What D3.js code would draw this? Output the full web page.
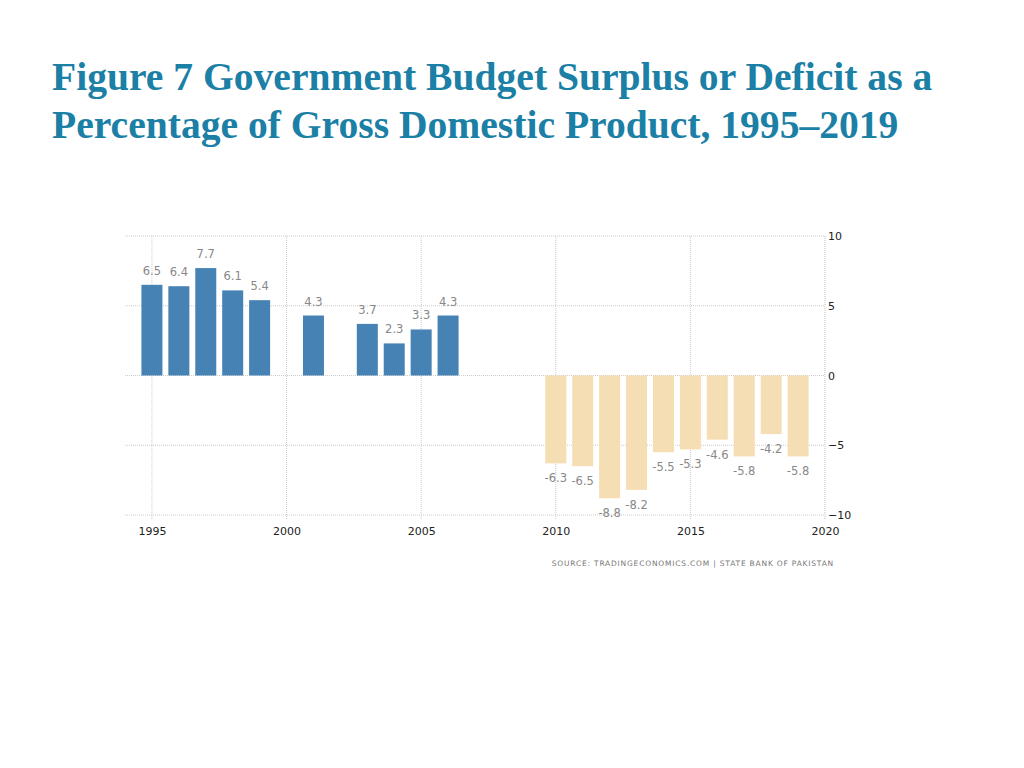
<!DOCTYPE html>
<html>
<head>
<meta charset="utf-8">
<script src="https://cdn.jsdelivr.net/npm/d3@7"></script>
<style>
  body { margin: 0; background: #fff; }
  .title { font-family: "Liberation Serif", "Times New Roman", serif; font-weight: bold; font-size: 39.6px; fill: #1b7fa6; }
  .tick text { font-family: "DejaVu Sans", "Open Sans", sans-serif; font-size: 11px; fill: #222; }
  .label { font-family: "DejaVu Sans", "Open Sans", sans-serif; font-size: 11.5px; fill: #888; text-anchor: middle; }
  .source { font-family: "DejaVu Sans", sans-serif; font-size: 7.5px; fill: #777; letter-spacing: 0.8px; }
</style>
</head>
<body>
<div id="chart"></div>
<script>
var years = [1995, 1996, 1997, 1998, 1999, 2001, 2003, 2004, 2005, 2006,
             2010, 2011, 2012, 2013, 2014, 2015, 2016, 2017, 2018, 2019];
var values = [6.5, 6.4, 7.7, 6.1, 5.4, 4.3, 3.7, 2.3, 3.3, 4.3,
              -6.3, -6.5, -8.8, -8.2, -5.5, -5.3, -4.6, -5.8, -4.2, -5.8];
var xTicks = [1995, 2000, 2005, 2010, 2015, 2020];
var yTicks = [10, 5, 0, -5, -10];

var data = years.map(function (y, i) { return { year: y, value: values[i] }; });

var width = 1024,
    height = 768;

var svg = d3.select("#chart")
    .append("svg")
    .attr("width", width)
    .attr("height", height);

// title
svg.append("text").attr("class", "title").attr("x", 52).attr("y", 90)
    .text("Figure 7 Government Budget Surplus or Deficit as a");
svg.append("text").attr("class", "title").attr("x", 52).attr("y", 138)
    .text("Percentage of Gross Domestic Product, 1995\u20132019");

var x = d3.scaleLinear().domain([1994, 2020]).range([125, 825]);
var y = d3.scaleLinear().domain([-10, 10]).range([515, 236]);
var barW = 21;

// horizontal grid
svg.append("g")
    .selectAll("line")
    .data(yTicks)
    .enter().append("line")
    .attr("x1", x(1994)).attr("x2", x(2020))
    .attr("y1", function (d) { return y(d); })
    .attr("y2", function (d) { return y(d); })
    .attr("stroke", "#ccc")
    .attr("stroke-dasharray", "1,1");

// vertical grid
svg.append("g")
    .selectAll("line")
    .data(xTicks)
    .enter().append("line")
    .attr("x1", function (d) { return x(d); })
    .attr("x2", function (d) { return x(d); })
    .attr("y1", y(10)).attr("y2", y(-10) + 5)
    .attr("stroke", function (d) { return d === 2020 ? "#bbb" : "#ccc"; })
    .attr("stroke-dasharray", "1,1");

// bars
svg.append("g")
    .selectAll("rect")
    .data(data)
    .enter().append("rect")
    .attr("x", function (d) { return x(d.year) - barW / 2; })
    .attr("width", barW)
    .attr("y", function (d) { return y(Math.max(0, d.value)); })
    .attr("height", function (d) { return Math.abs(y(d.value) - y(0)); })
    .attr("fill", function (d) { return d.value >= 0 ? "#4682b4" : "#f5deb3"; });

// value labels
svg.append("g")
    .selectAll("text")
    .data(data)
    .enter().append("text")
    .attr("class", "label")
    .attr("x", function (d) { return x(d.year); })
    .attr("y", function (d) { return d.value >= 0 ? y(d.value) - 10 : y(d.value) + 19; })
    .text(function (d) { return d.value; });

// x axis
var xAxis = svg.append("g")
    .attr("transform", "translate(0," + (y(-10) + 5) + ")")
    .call(d3.axisBottom(x).tickValues(xTicks).tickFormat(d3.format("d")).tickSize(0).tickPadding(7));
xAxis.select(".domain").remove();

// y axis (right)
var yAxis = svg.append("g")
    .attr("transform", "translate(" + x(2020) + ",0)")
    .call(d3.axisRight(y).tickValues(yTicks).tickSize(0).tickPadding(3));
yAxis.select(".domain").remove();

// source
svg.append("text").attr("class", "source")
    .attr("x", 834).attr("y", 566).attr("text-anchor", "end")
    .text("SOURCE: TRADINGECONOMICS.COM | STATE BANK OF PAKISTAN");
</script>
</body>
</html>
